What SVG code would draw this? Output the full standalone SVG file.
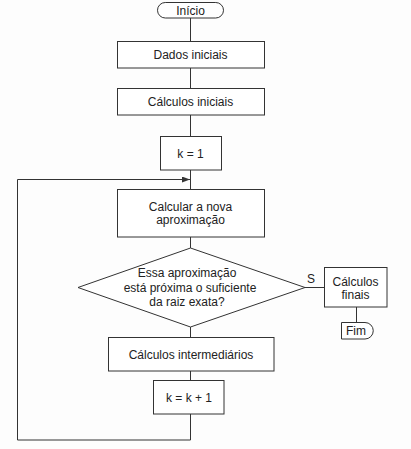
<svg xmlns="http://www.w3.org/2000/svg" width="411" height="449" viewBox="0 0 411 449">
<style>
.s{fill:#fff;stroke:#333;stroke-width:1}
.t{font-family:"Liberation Sans",Arial,sans-serif;font-size:12px;fill:#222;text-anchor:middle}
.c{fill:none;stroke:#333;stroke-width:1}
</style>
<defs>
<marker id="ah" markerWidth="8" markerHeight="6" refX="8" refY="3" orient="auto" markerUnits="userSpaceOnUse">
<path d="M0,0 L8,3 L0,6 Z" fill="#333"/>
</marker>
</defs>
<rect width="411" height="449" fill="#fdfdfd"/>
<g id="connectors">
<line class="c" x1="190.5" y1="18" x2="190.5" y2="41"/>
<line class="c" x1="190.5" y1="68" x2="190.5" y2="88"/>
<line class="c" x1="190.5" y1="115" x2="190.5" y2="136"/>
<line class="c" x1="190.5" y1="170" x2="190.5" y2="189"/>
<line class="c" x1="190.5" y1="237" x2="190.5" y2="248"/>
<line class="c" x1="190.5" y1="327" x2="190.5" y2="337"/>
<line class="c" x1="190.5" y1="371" x2="190.5" y2="380"/>
<polyline class="c" points="190.5,414 190.5,440 17.5,440 17.5,179.5 190,179.5" marker-end="url(#ah)"/>
<line class="c" x1="305" y1="287.5" x2="324" y2="287.5"/>
<line class="c" x1="356.5" y1="307" x2="356.5" y2="322"/>
<text class="t" x="311" y="283">S</text>
</g>
<g id="inicio">
<rect class="s" x="157.5" y="2.5" width="66" height="15.5" rx="7.75"/>
<text class="t" x="190.5" y="14.5">Início</text>
</g>
<g id="dados">
<rect class="s" x="117.5" y="41.5" width="147" height="26.5"/>
<text class="t" x="190.5" y="59">Dados iniciais</text>
</g>
<g id="calculos-iniciais">
<rect class="s" x="117.5" y="88.5" width="147" height="26.5"/>
<text class="t" x="190.5" y="106">Cálculos iniciais</text>
</g>
<g id="k1">
<rect class="s" x="160.5" y="136.5" width="61" height="33.5"/>
<text class="t" x="190.5" y="157.5">k = 1</text>
</g>
<g id="calcular">
<rect class="s" x="117.5" y="189.5" width="147" height="47.5"/>
<text class="t" x="190.5" y="211">Calcular a nova</text>
<text class="t" x="190.5" y="224">aproximação</text>
</g>
<g id="decisao">
<polygon class="s" points="190.5,248 305,287.5 190.5,327 78,287.5"/>
<text class="t" x="187" y="277">Essa aproximação</text>
<text class="t" x="190" y="291.5">está próxima o suficiente</text>
<text class="t" x="187" y="306">da raiz exata?</text>
</g>
<g id="calculos-finais">
<rect class="s" x="324.5" y="267.5" width="62.5" height="39.5"/>
<text class="t" x="355.5" y="286">Cálculos</text>
<text class="t" x="355.5" y="299">finais</text>
</g>
<g id="fim">
<path class="s" d="M341.5,322.5 H365 A8.25,8.25 0 0 1 365,339 H341.5 Z"/>
<text class="t" x="356" y="335">Fim</text>
</g>
<g id="calculos-intermediarios">
<rect class="s" x="108.5" y="337.5" width="165.5" height="33.5"/>
<text class="t" x="191" y="358.5">Cálculos intermediários</text>
</g>
<g id="kk1">
<rect class="s" x="153.5" y="380.5" width="70.5" height="33.5"/>
<text class="t" x="189" y="401.5">k = k + 1</text>
</g>
</svg>
